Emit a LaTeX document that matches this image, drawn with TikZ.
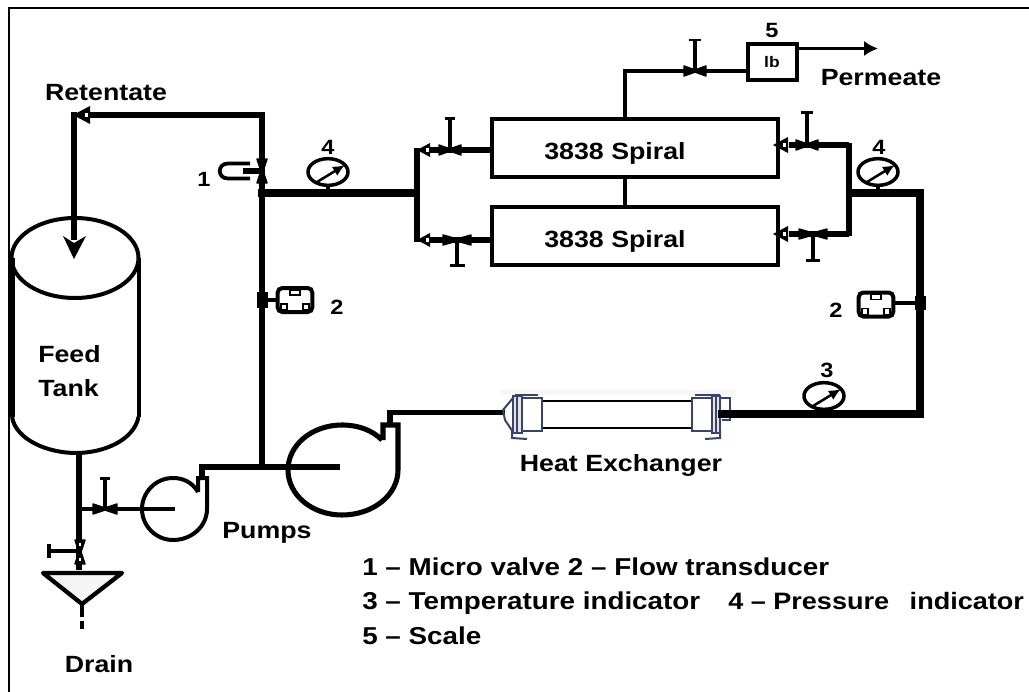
\documentclass[tikz,border=0pt]{standalone}
\usepackage{fontspec}
\setmainfont{Liberation Sans}[FakeStretch=1.14]
\usetikzlibrary{arrows.meta,shapes.geometric,calc}
\definecolor{hxblue}{HTML}{3A4468}
\newcommand{\VlvH}[4]{% name, x, y, half width
  \coordinate (#1) at (#2,#3);
  \filldraw[black,line width=1.1pt,line join=round] ($(#1)+(-#4,-5)$) -- ($(#1)+(0,-1)$) -- ($(#1)+(#4,-5)$) -- ($(#1)+(#4,5)$) -- ($(#1)+(0,1)$) -- ($(#1)+(-#4,5)$) -- cycle;
}
\newcommand{\VlvV}[3]{% name, x, y
  \coordinate (#1) at (#2,#3);
  \filldraw[black,line width=1.1pt,line join=round] ($(#1)+(-5,-12)$) -- ($(#1)+(-1,0)$) -- ($(#1)+(-5,12)$) -- ($(#1)+(5,12)$) -- ($(#1)+(1,0)$) -- ($(#1)+(5,-12)$) -- cycle;
}
\newcommand{\Gauge}[3]{% name, x, y
  \node[gaugebody] (#1) at (#2,#3) {};
  \draw[line width=1.9pt,-{Latex[length=9pt,width=8pt]}] ($(#1)+(-11,10)$) -- ($(#1)+(17,-7)$);
}
\newcommand{\Xducer}[3]{% name, x, y
  \node[xbody] (#1) at (#2,#3) {};
  \draw[line width=1pt] ($(#1)+(-5,-10)$) rectangle ($(#1)+(5,-5)$);
  \draw[line width=1pt] ($(#1)+(-14,4)$) rectangle ($(#1)+(-8,10)$);
  \draw[line width=1pt] ($(#1)+(8,4)$) rectangle ($(#1)+(14,10)$);
}
\newcommand{\HeadL}[3]{% left-pointing head: tip x, y, base x
  \fill[black] (#1,#2) -- (#3,#2-7) -- (#3,#2+7) -- cycle;
  \fill[white] (#3-4,#2-2) rectangle (#3-1,#2+2);
}
\tikzset{
  x=.75pt,y=-.75pt,
  pipe/.style={line width=4pt,line join=miter},
  thick pipe/.style={line width=5.4pt,line join=miter},
  vessel/.style={line width=3pt},
  gaugebody/.style={draw,ellipse,line width=2.6pt,minimum width=30pt,minimum height=20pt,inner sep=0pt,fill=white},
  xbody/.style={draw,rounded corners=3.5pt,line width=3pt,minimum width=26pt,minimum height=18pt,inner sep=0pt,fill=white},
  spiral/.style={draw,line width=3pt,minimum width=214.5pt,minimum height=43.5pt,inner sep=0pt},
  scalebox/.style={draw,line width=3pt,minimum width=36.5pt,minimum height=26.5pt,inner sep=0pt},
  lbtext/.style={inner sep=0pt,anchor=base,font=\bfseries\fontsize{11.5pt}{13pt}\selectfont},
  lab/.style={inner sep=0pt,anchor=base,font=\bfseries\fontsize{17.6pt}{20pt}\selectfont},
  num/.style={inner sep=0pt,anchor=base,font=\bfseries\fontsize{15.5pt}{18pt}\selectfont},
  leg/.style={inner sep=0pt,anchor=base west,font=\bfseries\fontsize{18.3pt}{20pt}\selectfont},
  legb/.style={inner sep=0pt,anchor=base west,font=\bfseries\fontsize{17.8pt}{20pt}\selectfont},
  hx/.style={hxblue,line width=1.1pt},
  hxk/.style={black,line width=1.6pt},
}
\begin{document}
\begin{tikzpicture}
\useasboundingbox (0,0) rectangle (1029,692);
\fill[white] (0,0) rectangle (1029,692);
% frame
\coordinate (fbl) at (9,692); \coordinate (ftl) at (9,8); \coordinate (ftr) at (1029,8);
\draw[line width=1.5pt] (fbl) -- (ftl) -- (ftr);

% tank
\coordinate (tankL) at (12,258); \coordinate (tankR) at (138.5,258);
\draw[vessel] (75,258) ellipse [x radius=63.5,y radius=40];
\draw[line width=3.8pt] (tankL) -- (12,417);
\draw[vessel] (tankR) -- (138.5,417);
\draw[vessel] (12,417) .. controls (16,440) and (48,453) .. (76,453) .. controls (104,453) and (134,440) .. (138.5,417);

% retentate line
\coordinate (top) at (262,115);
\coordinate (ret) at (74,115);
\coordinate (junc2) at (262,467);
\draw[pipe] (junc2) -- (top) -- (86,115);
\fill[black] (73,115) -- (90,106) -- (90,124) -- cycle;
\fill[white] (85,113) rectangle (88,117);
\draw[pipe] (ret) ++(0,-3) -- (74,240);
\fill[black] (74,259) -- (63,236) -- (74,243) -- (86,236) -- cycle;

% micro valve
\coordinate (mv) at (262,171);
\VlvV{mvv}{262}{171}
\draw[line width=2.8pt] (250,163.5) -- (228,163.5) .. controls (217,163.5) and (217,178.5) .. (228,178.5) -- (250,178.5);
\draw[pipe] (243,171) -- (mv);

% left pipes and instruments
\coordinate (hdrL) at (417,193);
\draw[thick pipe] (258,193) -- (hdrL);
\draw[line width=2.8pt] (328,180) -- (328,193);
\Gauge{g1}{328}{172}
\draw[pipe] (417,148) -- (417,242);
\draw[line width=3pt] (268,300) -- (280,300);
\fill[black] (257,292) rectangle (268,308);
\Xducer{x1}{295}{300}

% spirals
\node[spiral] (s1) at (635,148) {};
\node[spiral] (s2) at (635,236) {};
\node[lab] (s1t) at (615,160) {3838 Spiral};
\node[lab] (s2t) at (615,247) {3838 Spiral};
\draw[line width=3pt] (625,177) -- (625,207);

% left branches
\draw[pipe] (491,150) -- (430,150);
\draw[pipe] (491,240) -- (430,240);
\HeadL{417}{150}{430}
\HeadL{417}{240}{430}
\VlvH{v1}{450}{150}{11}
\VlvH{v2}{457}{240}{14}
\draw[line width=2.7pt] (v1) -- (450,118);
\draw[line width=2.2pt] (445,118.5) -- (455,118.5);
\draw[line width=3.4pt] (v2) -- (457,265);
\draw[line width=2.8pt] (450,265.5) -- (465,265.5);

% right branches
\draw[pipe] (789,145) -- (849,145);
\draw[pipe] (789,234) -- (849,234);
\fill[black] (773,145) -- (788,137) -- (788,153) -- cycle;
\fill[white] (783,143) rectangle (786,147);
\fill[black] (773,234) -- (788,226) -- (788,242) -- cycle;
\fill[white] (783,232) rectangle (786,236);
\VlvH{v3}{807}{145}{11}
\VlvH{v4}{813}{234}{14}
\draw[line width=2.7pt] (v3) -- (807,112);
\draw[line width=2.2pt] (801,112.5) -- (813,112.5);
\draw[line width=3.4pt] (v4) -- (813,260);
\draw[line width=2.8pt] (806,260.5) -- (820,260.5);
\coordinate (hdrR) at (849,193);
\draw[pipe] (849,143) -- (849,236);
\draw[thick pipe] (hdrR) -- (920,193) -- (920,414) -- (720,414);
\draw[line width=2.8pt] (878,180) -- (878,193);
\Gauge{g2}{878}{172}
\Gauge{g3}{824}{396}
\draw[line width=3pt] (894,303) -- (915,303);
\fill[black] (915,296) rectangle (926,310);
\Xducer{x2}{876}{304.5}

% permeate
\node[scalebox] (lb) at (772.5,62) {};
\node[lbtext] (lbt) at (772,68) {lb};
\coordinate (pm) at (625,71);
\VlvH{v5}{695}{71}{11}
\draw[line width=3pt] (625,119) -- (pm) -- (v5) -- (lb.west |- v5);
\draw[line width=2.7pt] (v5) -- (695,40);
\draw[line width=2.2pt] (689,40) -- (701,40);
\coordinate (pe) at (878,48.5);
\draw[line width=2.6pt,-{Latex[length=10.5pt,width=11.5pt]}] (797,48.5) -- (pe);

% drain
\coordinate (dt) at (79,453);
\draw[pipe] (dt) -- (79,570);
\VlvV{v6}{80}{552}
\fill[white] (79,543) rectangle (81,546);
\fill[white] (79,558) rectangle (81,561);
\draw[line width=2.6pt] (80,551) -- (50,551);
\draw[line width=3.4pt] (49,544) -- (49,558);
\draw[line width=3.2pt,fill=black!4,line join=round] (43,573) -- (122,573) -- (82,604) -- cycle;
\draw[line width=3pt] (82,604) -- (82,617);
\draw[line width=3.4pt] (82,621) -- (82,629);

% pump 1 branch
\draw[line width=3.2pt] (79,509) -- (175,509);
\VlvH{v7}{105}{509}{12}
\draw[line width=2.4pt] (v7) -- (105,478);
\draw[line width=2.6pt] (100,478.5) -- (110,478.5);
\draw[vessel,line join=miter] (198,492) .. controls (192,482) and (183,478) .. (173,478)
  .. controls (155,478) and (142,493) .. (142,509)
  .. controls (142,526) and (156,540) .. (173,540)
  .. controls (192,540) and (207,526) .. (207,509) -- (207,478) -- (198,478) -- (198,492);
\draw[pipe] (202,478) -- (202,467) -- (340,467);
% pump 2
\draw[line width=3.8pt,line join=miter] (382,440) .. controls (372,430) and (358,425) .. (342,425)
  .. controls (312,425) and (288,445) .. (288,470)
  .. controls (288,495) and (312,515) .. (342,515)
  .. controls (373,515) and (398,495) .. (398,470) -- (398,425) -- (383,425) -- (383,440);
\draw[pipe] (390,425) -- (390,412.5) -- (505,412.5);

% heat exchanger
\fill[black!3] (500,390) rectangle (735,395);
\draw[hx,line width=1.5pt] (513,398) -- (503,410) -- (505,420) -- (513,432);
\draw[hxk,fill=white] (542,401) rectangle (692,428);
\draw[hx,fill=white] (522,398) rectangle (542,431);
\draw[hx,fill=black!10] (513,396) rectangle (522,433);
\draw[hx] (517,396) -- (517,433);
\draw[hx] (515,395) -- (538,395);
\draw[hx,line width=1.5pt] (512,430) -- (512,438) -- (527,439);
\draw[hx,fill=white] (692,398) rectangle (712,431);
\draw[hx,fill=black!10] (712,396) rectangle (720,433);
\draw[hx] (716,396) -- (716,433);
\draw[hx] (695,395) -- (720,395);
\draw[hx,line width=1.4pt] (720,398) -- (730,398) -- (730,420) -- (722,420);
\draw[hx,line width=1.5pt] (720,430) -- (720,438) -- (705,439);
\draw[thick pipe] (718,414) -- (740,414);

% labels
\node[lab] (retl) at (106,100.5) {Retentate};
\node[lab] (perm) at (881,86) {Permeate};
\node[lab,anchor=base west] (feed) at (38,362) {Feed};
\node[lab,anchor=base west] (tank) at (38,396) {Tank};
\node[lab] (pumps) at (267,538) {Pumps};
\node[lab] (drain) at (99,672) {Drain};
\node[lab] (hxl) at (621,471) {Heat Exchanger};
\node[num] (n5) at (772,38) {5};
\node[num] (n4a) at (328,154) {4};
\node[num] (n4b) at (879,154) {4};
\node[num] (n3) at (827,377) {3};
\node[num] (n1) at (204,186) {1};
\node[num] (n2a) at (337,314) {2};
\node[num] (n2b) at (836,317) {2};
\node[leg] (l1) at (362,575.5) {1 – Micro valve 2 – Flow transducer};
\node[leg] (l2) at (362,609.5) {3 – Temperature indicator};
\node[legb] (l3) at (728,609.5) {4 – Pressure\hspace{.55em} indicator};
\node[leg] (l4) at (362,644) {5 – Scale};
\end{tikzpicture}
\end{document}
